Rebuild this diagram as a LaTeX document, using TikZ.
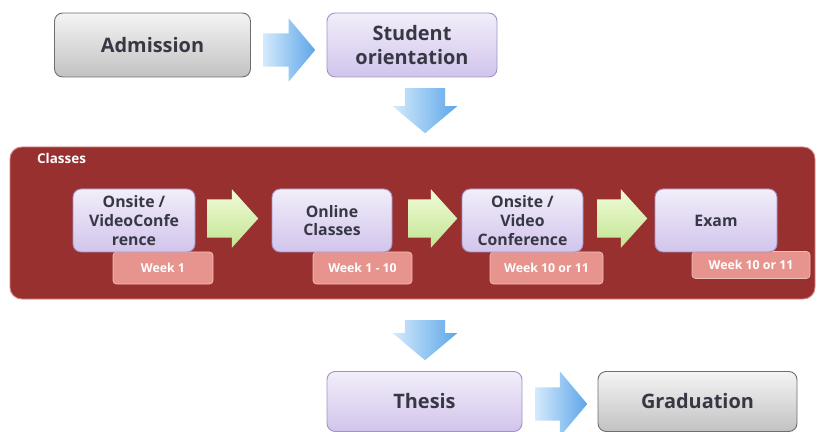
\documentclass[tikz,border=0pt]{standalone}
\usepackage{fontspec}
\setmainfont{Open Sans}
\usetikzlibrary{shapes.arrows}
\definecolor{greytop}{HTML}{F4F4F4}
\definecolor{greybot}{HTML}{C2C2C2}
\definecolor{greyline}{HTML}{6E6E6E}
\definecolor{lavtop}{HTML}{F2EEFA}
\definecolor{lavbot}{HTML}{D2C4EC}
\definecolor{lavline}{HTML}{A292C6}
\definecolor{bluelt}{HTML}{D4EAFC}
\definecolor{bluedk}{HTML}{5CA6E8}
\definecolor{band}{HTML}{983030}
\definecolor{bandline}{HTML}{D08484}
\definecolor{greentop}{HTML}{F0FCD8}
\definecolor{greenbot}{HTML}{C2E492}
\definecolor{tagfill}{HTML}{E8948E}
\definecolor{tagline}{HTML}{F2BCB6}
\definecolor{txt}{HTML}{383844}

\begin{document}
\begin{tikzpicture}[x=0.03cm,y=-0.03cm,
  sz/.style 2 args={minimum width=#1*0.03cm,minimum height=#2*0.03cm},
  greybox/.style={draw=greyline,line width=0.8pt,rounded corners=7pt,top color=greytop,bottom color=greybot,text=txt,align=center,font=\fontsize{17}{20}\selectfont\bfseries},
  lavbox/.style={draw=lavline,line width=0.8pt,rounded corners=7pt,top color=lavtop,bottom color=lavbot,text=txt,align=center,font=\fontsize{17}{20}\selectfont\bfseries},
  inbox/.style={lavbox,font=\fontsize{13.5}{16}\selectfont\bfseries},
  weektag/.style={draw=tagline,line width=0.6pt,fill=tagfill,rounded corners=3pt,text=white,font=\fontsize{10.5}{12}\selectfont\bfseries},
  bluearrow/.style={single arrow,draw=none,anchor=tail,left color=bluelt,right color=bluedk,inner xsep=0pt,inner ysep=16.5*0.03cm,single arrow head extend=15*0.03cm,single arrow tip angle=100,minimum height=52*0.03cm},
  greenarrow/.style={single arrow,draw=none,anchor=tail,top color=greentop,bottom color=greenbot,inner xsep=0pt,inner ysep=19*0.03cm,single arrow head extend=10*0.03cm,single arrow tip angle=96,minimum height=50*0.03cm}]
\useasboundingbox (0,0) rectangle (820,432);

\node[greybox,sz={196}{64}] (adm) at (152.5,45) {Admission};
\node[lavbox,sz={170}{64}] (ori) at (412,45) {Student\\orientation};
\node[bluearrow] (a1) at (263,50) {};
\node[bluearrow,rotate=-90,inner ysep=20*0.03cm,single arrow head extend=12*0.03cm,minimum height=45*0.03cm] (a2) at (425,88) {};

\draw[draw=bandline,fill=band,rounded corners=10pt,line width=0.8pt] (10,147) rectangle (815,299);
\node[anchor=west,text=white,font=\fontsize{11.5}{13}\selectfont\bfseries] (cls) at (33,158) {Classes};

\node[weektag,sz={100}{32}] (w1) at (163,268) {Week 1};
\node[weektag,sz={99}{32}] (w2) at (362.5,268) {Week 1 - 10};
\node[weektag,sz={113}{32}] (w3) at (546.5,268) {Week 10 or 11};
\node[weektag,sz={118}{27}] (w4) at (751,265) {Week 10 or 11};

\node[inbox,sz={122}{63}] (on1) at (134,220.5) {Onsite /\\VideoConfe\\rence};
\node[inbox,sz={120}{63}] (onl) at (332,220.5) {Online\\Classes};
\node[inbox,sz={121}{63}] (on2) at (522.5,220.5) {Onsite /\\Video\\Conference};
\node[inbox,sz={122}{63}] (exm) at (716,220.5) {Exam};
\node[greenarrow,minimum height=51*0.03cm] (g1) at (207,218.5) {};
\node[greenarrow,minimum height=49*0.03cm] (g2) at (408,218.5) {};
\node[greenarrow] (g3) at (597,218.5) {};

\node[bluearrow,rotate=-90,inner ysep=20*0.03cm,single arrow head extend=12*0.03cm,minimum height=40*0.03cm] (a3) at (425,320) {};
\node[lavbox,sz={195}{60}] (ths) at (424.5,401.5) {Thesis};
\node[bluearrow,single arrow head extend=16*0.03cm] (a4) at (535,404) {};
\node[greybox,sz={199}{60}] (grd) at (697.5,401.5) {Graduation};
\end{tikzpicture}
\end{document}
